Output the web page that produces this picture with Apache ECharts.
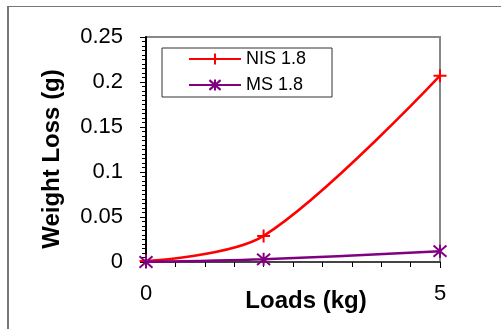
<!DOCTYPE html>
<html>
<head>
<meta charset="utf-8">
<script src="https://cdn.jsdelivr.net/npm/echarts@6/dist/echarts.min.js"></script>
<style>
  html, body { margin: 0; padding: 0; background: #fff; }
  #frame {
    position: absolute; left: 7px; top: 6px; width: 600px; height: 400px;
    border-left: 2px solid #777; border-top: 1px solid #777;
  }
  #chart { position: absolute; left: 0; top: 0; width: 501px; height: 329px; }
</style>
</head>
<body>
<div id="frame"></div>
<div id="chart"></div>
<script>
const loads = [0, 2, 5];
const nisValues = [0.001, 0.029, 0.207];
const msValues = [0, 0.003, 0.012];
const seriesNames = ['NIS 1.8', 'MS 1.8'];

const plusPath = 'path://M0,-10 L0,10 M-10,0 L10,0';
const starPath = 'path://M0,-10 L0,10 M-8.7,-8.7 L8.7,8.7 M-8.7,8.7 L8.7,-8.7';
const font = '"Liberation Sans", Arial, sans-serif';

const chart = echarts.init(document.getElementById('chart'));

chart.setOption({
  animation: false,
  textStyle: { fontFamily: font },
  grid: {
    left: 146,
    right: 61,
    top: 37,
    bottom: 67,
    outerBoundsMode: 'none',
    containLabel: false,
    show: true,
    borderColor: '#888',
    borderWidth: 2,
    backgroundColor: 'transparent'
  },
  legend: {
    left: 162,
    top: 48,
    orient: 'vertical',
    padding: [2, 26, 3, 26],
    itemGap: 8,
    itemWidth: 52,
    itemHeight: 14,
    borderColor: '#333',
    borderWidth: 1,
    textStyle: { fontSize: 18, color: '#000', fontFamily: font },
    data: seriesNames
  },
  xAxis: {
    type: 'value',
    min: 0,
    max: 5,
    interval: 5,
    name: 'Loads (kg)',
    nameLocation: 'middle',
    nameGap: 27,
    nameMoveOverlap: false,
    nameTextStyle: {
      fontSize: 24, fontWeight: 'bold', color: '#000', padding: [0, 0, 0, 26]
    },
    axisLine: { lineStyle: { color: '#444', width: 2 } },
    axisTick: { length: 6, lineStyle: { color: '#000' } },
    minorTick: { show: true, splitNumber: 10, length: 5, lineStyle: { color: '#000' } },
    axisLabel: { fontSize: 22, color: '#000', margin: 21 },
    splitLine: { show: false }
  },
  yAxis: {
    type: 'value',
    min: 0,
    max: 0.25,
    interval: 0.05,
    name: 'Weight Loss (g)',
    nameLocation: 'middle',
    nameGap: 82,
    nameMoveOverlap: false,
    nameTextStyle: {
      fontSize: 24, fontWeight: 'bold', color: '#000', padding: [0, 19, 0, 0]
    },
    axisLine: { show: true, lineStyle: { color: '#000', width: 2 } },
    axisTick: { length: 6, lineStyle: { color: '#000' } },
    minorTick: { show: true, splitNumber: 10, length: 4, lineStyle: { color: '#000' } },
    axisLabel: { fontSize: 22, color: '#000', margin: 23 },
    splitLine: { show: false }
  },
  series: [
    {
      name: seriesNames[0],
      type: 'line',
      smooth: 0.32,
      data: loads.map((x, i) => [x, nisValues[i]]),
      symbol: plusPath,
      symbolSize: 13,
      lineStyle: { color: '#ff0000', width: 2.5 },
      itemStyle: { color: '#ff0000', borderColor: '#ff0000', borderWidth: 2 },
      z: 2
    },
    {
      name: seriesNames[1],
      type: 'line',
      smooth: 0.32,
      data: loads.map((x, i) => [x, msValues[i]]),
      symbol: starPath,
      symbolSize: 13,
      lineStyle: { color: '#800080', width: 2.5 },
      itemStyle: { color: '#800080', borderColor: '#800080', borderWidth: 2 },
      z: 3
    }
  ]
});
</script>
</body>
</html>
